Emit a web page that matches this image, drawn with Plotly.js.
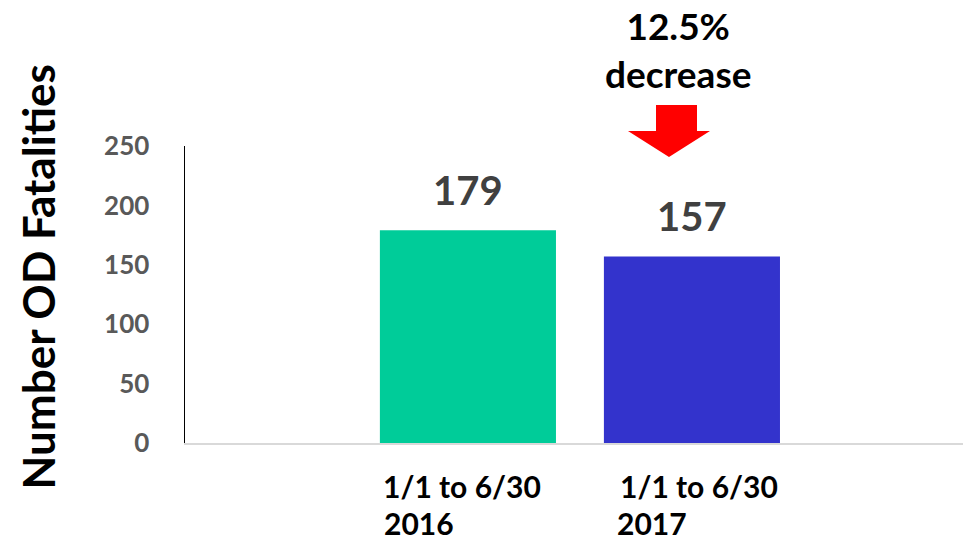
<!DOCTYPE html>
<html>
<head>
<meta charset="utf-8">
<script src="https://cdn.plot.ly/plotly-3.0.1.min.js"></script>
<style>html,body{margin:0;padding:0;background:#fff;}#chart{width:963px;height:542px;}</style>
</head>
<body>
<div id="chart"></div>
<script>
const categories = ["2016", "2017"];
const periodLabels = ["1/1 to 6/30", "1/1 to 6/30"];
const fatalities = [179, 157];
const barColors = ["#00CC99", "#3333CC"];
const yTicks = [0, 50, 100, 150, 200, 250];
const changeText = "12.5%<br>decrease";
const yTitle = "Number OD Fatalities";

const FONT = "Lato, 'Noto Sans', sans-serif";

const trace = {
  type: "bar",
  x: categories.map((c, i) => i),
  y: fatalities,
  marker: { color: barColors },
  width: 0.786,
  hoverinfo: "none"
};

const annotations = [];
categories.forEach((c, i) => {
  annotations.push({
    x: i, y: fatalities[i], xref: "x", yref: "y",
    text: "<b>" + fatalities[i] + "</b>",
    showarrow: false, yanchor: "bottom", yshift: 14,
    font: { family: FONT, size: 40, color: "#404040" }
  });
  annotations.push({
    x: i, y: 0, xref: "x", yref: "paper",
    text: "<b>" + periodLabels[i] + "</b>",
    showarrow: false, yanchor: "middle", xanchor: "center", yshift: -43,
    xshift: i === 0 ? -6 : 7,
    font: { family: FONT, size: 30, color: "#000000" }
  });
  annotations.push({
    x: i, y: 0, xref: "x", yref: "paper",
    text: "<b>" + c + "</b>",
    showarrow: false, yanchor: "middle", xanchor: "left", yshift: -80,
    xshift: i === 0 ? -86 : -77,
    font: { family: FONT, size: 30, color: "#000000" }
  });
});
annotations.push({
  x: 1, y: 1, xref: "x", yref: "paper",
  text: "<b>" + changeText + "</b>",
  showarrow: false, yanchor: "bottom", yshift: 48, xshift: -14,
  font: { family: FONT, size: 37, color: "#000000" }
});
annotations.push({
  x: -0.189, y: 0.5, xref: "paper", yref: "paper", xanchor: "center",
  text: "<b>" + yTitle + "</b>", textangle: -90,
  showarrow: false, yshift: 18,
  font: { family: FONT, size: 44, color: "#000000" }
});

const layout = {
  width: 963, height: 542,
  margin: { l: 185, r: 0, t: 146, b: 99, pad: 0 },
  paper_bgcolor: "#ffffff", plot_bgcolor: "#ffffff",
  showlegend: false,
  xaxis: {
    type: "linear", range: [-1.263, 2.21],
    showticklabels: false, showgrid: false, zeroline: false,
    showline: true, linecolor: "#d9d9d9", linewidth: 2, ticks: ""
  },
  yaxis: {
    range: [0, 250], tickvals: yTicks, ticktext: yTicks.map(v => "<b>" + v + "</b>"),
    showgrid: false, zeroline: false, showline: true, linecolor: "#000000", linewidth: 1.5,
    ticks: "", ticklabelstandoff: 29,
    tickfont: { family: FONT, size: 26, color: "#595959" }
  },
  shapes: [{
    type: "path", xref: "paper", yref: "paper",
    path: "M 0.6054 1.138 L 0.6581 1.138 L 0.6581 1.0505 L 0.6748 1.0505 L 0.6221 0.963 L 0.5694 1.0505 L 0.6054 1.0505 Z",
    fillcolor: "#FF0000", line: { width: 0 }, layer: "above"
  }],
  annotations: annotations
};

Plotly.newPlot("chart", [trace], layout, { displayModeBar: false, staticPlot: true });
</script>
</body>
</html>
